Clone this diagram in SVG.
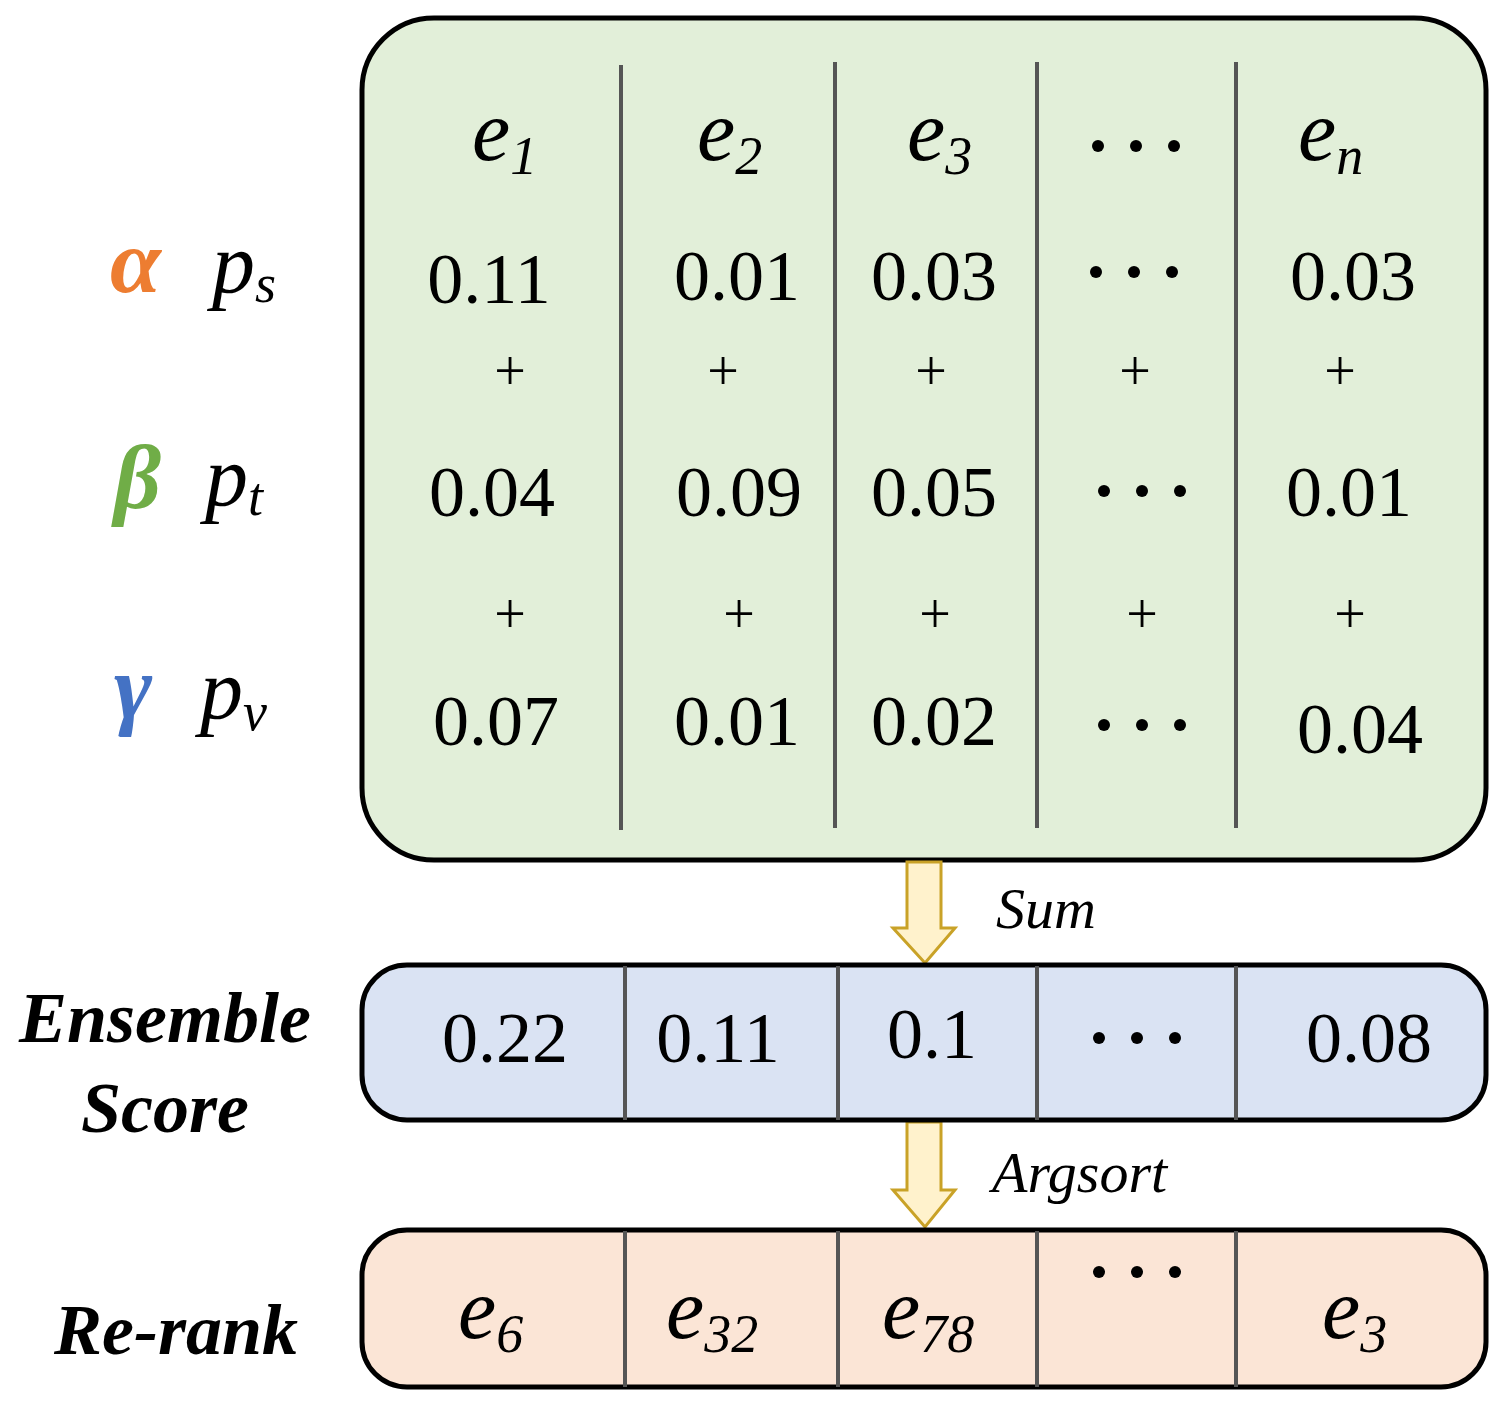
<svg xmlns="http://www.w3.org/2000/svg" width="1506" height="1402" viewBox="0 0 1506 1402">
<style>
.t{font-family:"Liberation Serif","Times New Roman","Tinos","DejaVu Serif",serif;fill:#000}
.n{font-size:72px;text-anchor:middle}
.e{font-size:86px;font-style:italic}
.s{font-size:54px;font-style:italic}
.p{font-size:56px;text-anchor:middle}
.g{font-size:92px;font-weight:bold;font-style:italic}
.l{font-size:72px;font-weight:900;font-style:italic;text-anchor:middle}
.div{stroke:#555;stroke-width:4}
.box{stroke:#000;stroke-width:5}
.arr{fill:#fff2cc;stroke:#c9a227;stroke-width:3}
.dot{fill:#000}
</style>
<defs><g id="dots"><circle cx="-38" cy="0" r="6"/><circle cx="0" cy="0" r="6"/><circle cx="38" cy="0" r="6"/></g></defs>
<g id="scores">
<rect class="box" x="362" y="18" width="1124" height="842" rx="72" fill="#e2efd9"/>
<g class="div"><line x1="621" y1="65" x2="621" y2="830"/><line x1="835" y1="62" x2="835" y2="828"/><line x1="1037" y1="62" x2="1037" y2="828"/><line x1="1236" y1="62" x2="1236" y2="828"/></g>
<g class="t">
<text class="e" x="472" y="160">e<tspan class="s" dy="14">1</tspan></text>
<text class="e" x="697" y="160">e<tspan class="s" dy="14">2</tspan></text>
<text class="e" x="907" y="160">e<tspan class="s" dy="14">3</tspan></text>
<text class="e" x="1298" y="160">e<tspan class="s" dy="14">n</tspan></text>
<text class="n" x="489" y="303">0.11</text><text class="n" x="737" y="300">0.01</text><text class="n" x="934" y="300">0.03</text><text class="n" x="1353" y="300">0.03</text>
<text class="p" x="510" y="390">+</text><text class="p" x="723" y="390">+</text><text class="p" x="931" y="390">+</text><text class="p" x="1135" y="390">+</text><text class="p" x="1340" y="390">+</text>
<text class="n" x="492" y="516">0.04</text><text class="n" x="739" y="516">0.09</text><text class="n" x="934" y="516">0.05</text><text class="n" x="1349" y="516">0.01</text>
<text class="p" x="510" y="633">+</text><text class="p" x="739" y="633">+</text><text class="p" x="935" y="633">+</text><text class="p" x="1142" y="633">+</text><text class="p" x="1350" y="633">+</text>
<text class="n" x="496" y="745">0.07</text><text class="n" x="737" y="745">0.01</text><text class="n" x="934" y="745">0.02</text><text class="n" x="1360" y="753">0.04</text>
</g>
<g class="dot"><use href="#dots" x="1136" y="146"/><use href="#dots" x="1134" y="272"/><use href="#dots" x="1142" y="491"/><use href="#dots" x="1142" y="725"/></g>
</g>
<g id="weights" class="t">
<text class="g" x="110" y="292" style="fill:#ed7d31">α</text>
<text class="e" x="212" y="292">p<tspan class="s" dy="10">s</tspan></text>
<text class="g" x="114" y="508" style="fill:#70ad47">β</text>
<text class="e" x="205" y="505">p<tspan class="s" dy="10">t</tspan></text>
<text class="g" x="114" y="718" style="fill:#4472c4">γ</text>
<text class="e" x="200" y="718">p<tspan class="s" dy="12">v</tspan></text>
</g>
<g id="connectors">
<path class="arr" d="M907,862 H941 V928 H955 L925,963 L893,928 H907 Z"/>
<path class="arr" d="M907,1122 H941 V1190 H955 L925,1227 L893,1190 H907 Z"/>
<text class="t" x="996" y="928" style="font-size:58px;font-style:italic">Sum</text>
<text class="t" x="992" y="1192" style="font-size:58px;font-style:italic">Argsort</text>
</g>
<g id="ensemble">
<rect class="box" x="362" y="965" width="1124" height="155" rx="45" fill="#dae3f3"/>
<g class="div"><line x1="625" y1="966" x2="625" y2="1120"/><line x1="838" y1="966" x2="838" y2="1120"/><line x1="1037" y1="966" x2="1037" y2="1120"/><line x1="1236" y1="966" x2="1236" y2="1120"/></g>
<g class="t"><text class="n" x="505" y="1062">0.22</text><text class="n" x="718" y="1062">0.11</text><text class="n" x="932" y="1058">0.1</text><text class="n" x="1369" y="1062">0.08</text></g>
<g class="dot"><use href="#dots" x="1137" y="1038"/></g>
<g class="t"><text class="l" x="165" y="1042">Ensemble</text><text class="l" x="165" y="1132">Score</text></g>
</g>
<g id="rerank">
<rect class="box" x="362" y="1230" width="1124" height="157" rx="45" fill="#fbe5d6"/>
<g class="div"><line x1="625" y1="1231" x2="625" y2="1387"/><line x1="838" y1="1231" x2="838" y2="1387"/><line x1="1037" y1="1231" x2="1037" y2="1387"/><line x1="1236" y1="1231" x2="1236" y2="1387"/></g>
<g class="t">
<text class="e" x="458" y="1338">e<tspan class="s" dy="14">6</tspan></text>
<text class="e" x="666" y="1338">e<tspan class="s" dy="14">32</tspan></text>
<text class="e" x="882" y="1338">e<tspan class="s" dy="14">78</tspan></text>
<text class="e" x="1322" y="1338">e<tspan class="s" dy="14">3</tspan></text>
<text class="l" x="176" y="1354">Re-rank</text>
</g>
<g class="dot"><use href="#dots" x="1137" y="1272"/></g>
</g>
</svg>
